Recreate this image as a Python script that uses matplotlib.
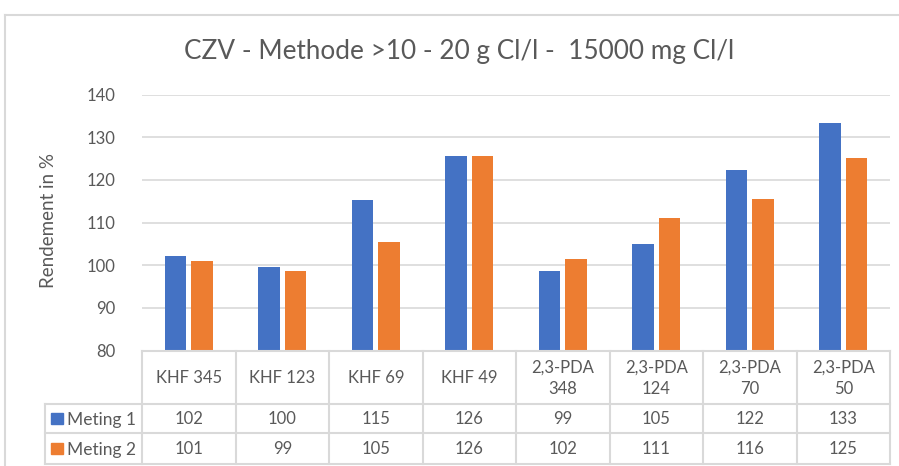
import numpy as np
import matplotlib
matplotlib.use("Agg")
import matplotlib.pyplot as plt
from matplotlib.lines import Line2D
from matplotlib.patches import Rectangle

plt.rcParams['font.family'] = ['Lato', 'DejaVu Sans']

title = "CZV - Methode >10 - 20 g Cl/l -  15000 mg Cl/l"
ylabel = "Rendement in %"
categories = ["KHF 345", "KHF 123", "KHF 69", "KHF 49",
              "2,3-PDA\n348", "2,3-PDA\n124", "2,3-PDA\n70", "2,3-PDA\n50"]
series_names = ["Meting 1", "Meting 2"]
meting1 = [102.2, 99.6, 115.3, 125.6, 98.7, 105.0, 122.3, 133.3]
meting2 = [100.9, 98.7, 105.4, 125.6, 101.5, 111.1, 115.6, 125.2]
yticks = [80, 90, 100, 110, 120, 130, 140]
colors = ["#4472C4", "#ED7D31"]
txt = "#595959"
grid = "#D9D9D9"

W, H = 899, 466
fig = plt.figure(figsize=(W / 100, H / 100), dpi=100)

def fx(x):
    return x / W

def fy(y):
    return 1 - y / H

# chart border (cropped)
fig.add_artist(Line2D([fx(5), fx(5)], [0, fy(15)], color=grid, lw=1.5, transform=fig.transFigure))
fig.add_artist(Line2D([fx(5), 1], [fy(15), fy(15)], color=grid, lw=1.5, transform=fig.transFigure))

left, right, top, bottom = 142, 890, 94.7, 350.6
ax = fig.add_axes([fx(left), fy(bottom), fx(right - left), (bottom - top) / H])
n = len(categories)
x = np.arange(n)
bw = 0.23
off = 0.143
ax.bar(x - off, meting1, width=bw, color=colors[0], bottom=0, zorder=3)
ax.bar(x + off, meting2, width=bw, color=colors[1], bottom=0, zorder=3)
ax.set_xlim(-0.5, n - 0.5)
ax.set_ylim(yticks[0], yticks[-1])
ax.set_yticks(yticks)
ax.set_yticklabels([str(t) for t in yticks])
ax.set_xticks([])
ax.grid(axis='y', color=grid, lw=1.2, zorder=0)
for s in ax.spines.values():
    s.set_visible(False)
ax.tick_params(axis='y', length=0, pad=19, labelcolor=txt, labelsize=12)

fig.text(fx(48), fy(221), ylabel, rotation=90, ha='center', va='center',
         color=txt, fontsize=13.5)
fig.text(fx(459), fy(51), title, ha='center', va='center', color=txt, fontsize=18.8)

# data table
tleft = 45
unit = (right - left) / n
xl = -0.5 - (left - tleft) / unit
tax = fig.add_axes([fx(tleft), 0, fx(right - tleft), 1 - bottom / H])
tax.set_xlim(xl, n - 0.5)
tax.set_ylim(H - bottom, 0)
tax.axis('off')
r0, r1, r2, r3 = 0, 53.4, 82.4, 113.4
lc = grid
lw = 1.5
tax.plot([-0.5, n - 0.5], [r0, r0], color=lc, lw=lw, clip_on=False)
for yy in (r1, r2, r3):
    tax.plot([xl, n - 0.5], [yy, yy], color=lc, lw=lw, clip_on=False)
for i in range(n + 1):
    tax.plot([i - 0.5, i - 0.5], [r0, r3], color=lc, lw=lw, clip_on=False)
tax.plot([xl, xl], [r1, r3], color=lc, lw=lw, clip_on=False)

for i, c in enumerate(categories):
    tax.text(i, (r0 + r1) / 2 + 1, c, ha='center', va='center', color=txt,
             fontsize=12, linespacing=1.35)
for row, (vals, ya, yb) in enumerate([(meting1, r1, r2), (meting2, r2, r3)]):
    for i, v in enumerate(vals):
        tax.text(i, (ya + yb) / 2 + 1, f"{int(np.floor(v + 0.5)):d}", ha='center', va='center',
                 color=txt, fontsize=12)
    sx = xl + 5.7 / unit
    cy = (ya + yb) / 2
    tax.add_patch(Rectangle((sx, cy - 5.5), 12 / unit, 11, color=colors[row], clip_on=False))
    tax.text(xl + 22 / unit, cy + 1, series_names[row], ha='left', va='center',
             color=txt, fontsize=12.5)

fig.savefig("out.png", dpi=100)
